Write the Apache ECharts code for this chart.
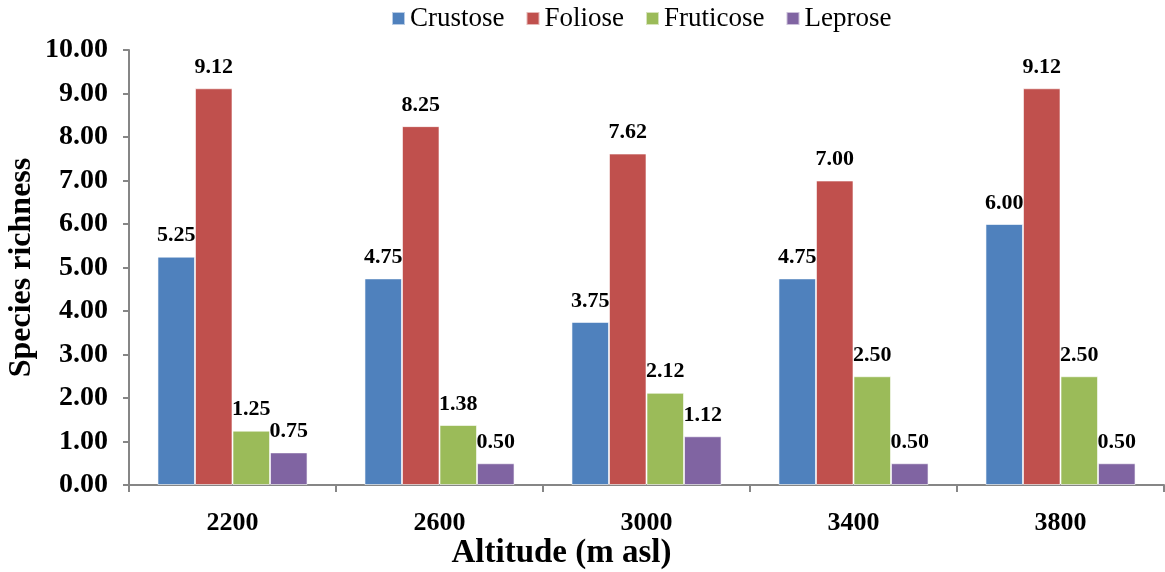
<!DOCTYPE html>
<html>
<head>
<meta charset="utf-8">
<script src="https://cdn.jsdelivr.net/npm/echarts@6/dist/echarts.min.js"></script>
<style>
  html, body { margin: 0; padding: 0; background: #fff; }
  #chart { width: 1165px; height: 572px; }
</style>
</head>
<body>
<div id="chart"></div>
<script>
// Species richness of lichen growth forms along an altitude gradient
const altitudes = ['2200', '2600', '3000', '3400', '3800'];
const crustose  = [5.25, 4.75, 3.75, 4.75, 6.00];
const foliose   = [9.12, 8.25, 7.62, 7.00, 9.12];
const fruticose = [1.25, 1.38, 2.12, 2.50, 2.50];
const leprose   = [0.75, 0.50, 1.12, 0.50, 0.50];
const yTicks    = [0, 1, 2, 3, 4, 5, 6, 7, 8, 9, 10];

const serif = '"Liberation Serif", "Times New Roman", serif';
const axisGray = '#868686';

function barSeries(name, data, color) {
  return {
    name: name,
    type: 'bar',
    data: data,
    barGap: '0%',
    barCategoryGap: '27.5%',
    itemStyle: { color: color, borderColor: 'rgba(255,255,255,0.6)', borderWidth: 1 },
    label: {
      show: true,
      position: 'top',
      distance: 10,
      formatter: p => p.value.toFixed(2),
      fontFamily: serif,
      fontWeight: 'bold',
      fontSize: 22,
      color: '#000'
    }
  };
}

const chart = echarts.init(document.getElementById('chart'));
chart.setOption({
  animation: false,
  legend: {
    top: 0,
    left: 386,
    itemWidth: 13,
    itemHeight: 13,
    itemGap: 21,
    icon: 'rect',
    textStyle: { fontFamily: serif, fontSize: 27, color: '#000' },
    data: ['Crustose', 'Foliose', 'Fruticose', 'Leprose']
  },
  grid: { left: 129, right: 1, top: 50, bottom: 87, containLabel: false, outerBoundsMode: 'none' },
  xAxis: {
    type: 'category',
    data: altitudes,
    name: 'Altitude (m asl)',
    nameLocation: 'middle',
    nameGap: 52,
    nameMoveOverlap: false,
    nameTextStyle: { fontFamily: serif, fontWeight: 'bold', fontSize: 33, color: '#000', padding: [0, 170, 0, 0] },
    axisLine: { lineStyle: { color: axisGray, width: 2 } },
    axisTick: { show: true, length: 7, lineStyle: { color: axisGray, width: 2 } },
    axisLabel: { fontFamily: serif, fontWeight: 'bold', fontSize: 26, color: '#000', margin: 25 }
  },
  yAxis: {
    type: 'value',
    min: yTicks[0],
    max: yTicks[yTicks.length - 1],
    interval: 1,
    name: 'Species richness',
    nameLocation: 'middle',
    nameGap: 91,
    nameMoveOverlap: false,
    nameTextStyle: { fontFamily: serif, fontWeight: 'bold', fontSize: 32, color: '#000' },
    axisLine: { show: true, lineStyle: { color: axisGray, width: 2 } },
    axisTick: { show: true, length: 6, lineStyle: { color: axisGray, width: 2 } },
    splitLine: { show: false },
    axisLabel: {
      fontFamily: serif, fontWeight: 'bold', fontSize: 28, color: '#000', margin: 21,
      formatter: v => v.toFixed(2)
    }
  },
  series: [
    barSeries('Crustose', crustose, '#4F81BD'),
    barSeries('Foliose', foliose, '#C0504D'),
    barSeries('Fruticose', fruticose, '#9BBB59'),
    barSeries('Leprose', leprose, '#8064A2')
  ]
});
</script>
</body>
</html>
